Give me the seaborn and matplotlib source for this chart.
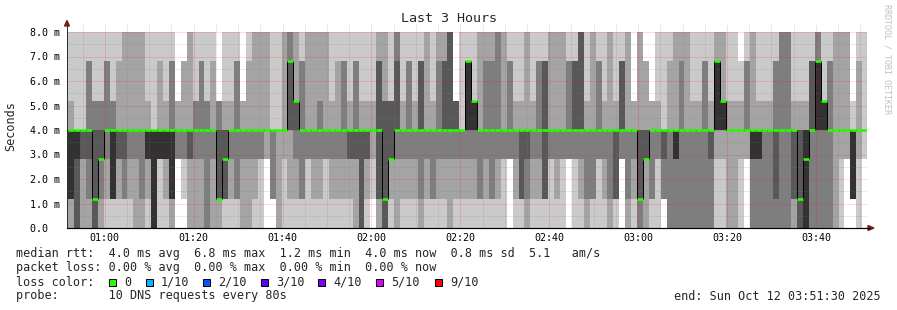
import numpy as np
import pandas as pd
import matplotlib
matplotlib.use("Agg")
import matplotlib.pyplot as plt
from matplotlib.patches import Rectangle, Polygon
import seaborn as sns

# ---------------- data ----------------
# ping levels (ms) that the consolidated DNS times fall on
LEVELS = [0.0, 1.2, 2.8, 4.0, 5.2, 6.8, 8.0]
# smoke depth (0..5 layers of the 10 sorted pings) over each gap between
# consecutive LEVELS, bottom -> top, one string per 80 s step
DEPTH = [
    "222222",
    "255211", "445111", "224111", "234331", "444311", "234311", "123331", "155311", "124221", "134222",
    "123222", "223222", "233222", "125211", "555111", "115221", "125211", "255331", "003200", "013220",
    "224222", "223311", "223331", "333311", "223221", "244300", "144211", "123211", "133331", "223200",
    "223221", "123222", "113222", "002222",
    "033111", "222111", "112222", "122443", "123422", "133331", "113222", "123222", "123322", "113222",
    "123211", "123221", "123331", "124211", "224331", "444211", "124211", "012211", "244442", "444422",
    "124411", "223443", "123211", "123331", "123211", "233441", "123222", "133211", "123332", "123442",
    "223444", "123400", "123111",
    "123551", "123511", "133222", "123332", "133332", "123333", "113222", "003331", "123211", "144211",
    "234222", "123211", "123331", "144441", "113222", "123222", "113222", "003331", "113441", "123444",
    "233211", "133222", "113331", "123211", "233222", "144211", "003441", "233222", "123200", "344222",
    "224220", "133200", "113211",
    "034111", "333221", "335222", "333332", "333222", "333211", "333211", "333331", "334211", "112552",
    "112522", "222211", "222211", "112210", "002331", "335222", "335211", "333211", "333211", "344331",
    "333333", "333333", "244211", "444211", "555211", "333441", "333553", "333511", "333331", "222222",
    "112222", "002222", "055100", "112221", "001111",
]
# median rtt (ms) per 80 s step
MEDIAN = [
    4.0, 4.0, 4.0, 4.0, 4.0, 1.2, 2.8, 4.0, 4.0, 4.0,
    4.0, 4.0, 4.0, 4.0, 4.0, 4.0, 4.0, 4.0, 4.0, 4.0,
    4.0, 4.0, 4.0, 4.0, 4.0, 4.0, 1.2, 2.8, 4.0, 4.0,
    4.0, 4.0, 4.0, 4.0, 4.0, 4.0, 4.0, 4.0, 6.8, 5.2,
    4.0, 4.0, 4.0, 4.0, 4.0, 4.0, 4.0, 4.0, 4.0, 4.0,
    4.0, 4.0, 4.0, 4.0, 1.2, 2.8, 4.0, 4.0, 4.0, 4.0,
    4.0, 4.0, 4.0, 4.0, 4.0, 4.0, 4.0, 4.0, 6.8, 5.2,
    4.0, 4.0, 4.0, 4.0, 4.0, 4.0, 4.0, 4.0, 4.0, 4.0,
    4.0, 4.0, 4.0, 4.0, 4.0, 4.0, 4.0, 4.0, 4.0, 4.0,
    4.0, 4.0, 4.0, 4.0, 4.0, 4.0, 4.0, 1.2, 2.8, 4.0,
    4.0, 4.0, 4.0, 4.0, 4.0, 4.0, 4.0, 4.0, 4.0, 4.0,
    6.8, 5.2, 4.0, 4.0, 4.0, 4.0, 4.0, 4.0, 4.0, 4.0,
    4.0, 4.0, 4.0, 4.0, 1.2, 2.8, 4.0, 6.8, 5.2, 4.0,
    4.0, 4.0, 4.0, 4.0, 4.0, 4.0,
]
STEP_S = 80            # probe step
FIRST_STEP_S = -64     # start of first step relative to window start (00:51:30)
WINDOW_S = 10800       # last 3 hours
MAJOR_LABELS = ["01:00", "01:20", "01:40", "02:00", "02:20", "02:40", "03:00", "03:20", "03:40"]
FIRST_MAJOR_S = 510    # 01:00 relative to 00:51:30
Y_LABELS = ["0.0  ", "1.0 m", "2.0 m", "3.0 m", "4.0 m", "5.0 m", "6.0 m", "7.0 m", "8.0 m"]
LOSS_NAMES = ["0", "1/10", "2/10", "3/10", "4/10", "5/10", "9/10"]
LOSS_COLORS = ["#26ff00", "#00b8ff", "#0059ff", "#5e00ff", "#7e00ff", "#dd00ff", "#ff0000"]

# ---------------- derived ----------------
n = len(DEPTH)
edges = FIRST_STEP_S + STEP_S * np.arange(n + 1)
lev = np.array(LEVELS)
low = np.zeros((5, n))
high = np.zeros((5, n))
for j, code in enumerate(DEPTH):
    d = np.array([int(c) for c in code])
    for i in range(1, 6):
        idx = np.where(d >= i)[0]
        if len(idx):
            low[i - 1, j] = lev[idx[0]]
            high[i - 1, j] = lev[idx[-1] + 1]
med = np.array(MEDIAN)

# ---------------- figure ----------------
sns.set_theme(style="white")
plt.rcParams["font.family"] = ["DejaVu Sans Mono", "DejaVu Sans"]
W, H = 897, 310
fig = plt.figure(figsize=(W / 100, H / 100), dpi=100)
fig.patch.set_facecolor("white")
AX_L, AX_R, AX_T, AX_B = 67, 867, 25, 228
ax = fig.add_axes([AX_L / W, 1 - AX_B / H, (AX_R - AX_L) / W, (AX_B - AX_T) / H])
ax.set_facecolor("white")
PX_PER_MS = 24.5
ax.set_xlim(0, WINDOW_S)
ax.set_ylim(0, 8.0 + (32 - AX_T) / PX_PER_MS)

# smoke
for i in range(5):
    g = int(190 / 5 * (5 - (i + 1))) + 50
    col = "#%02x%02x%02x" % (g, g, g)
    ax.stairs(high[i], edges, baseline=low[i], fill=True, color=col,
              linewidth=0, antialiased=False, zorder=1)

def px(p):
    return p * 72 / 100

# grid (dotted, drawn above the smoke)
GRID = (0.5, 0.5, 0.5, 0.32)
MGRID = (1.0, 0.0, 0.0, 0.28)
dot = (0, (1, 1))
for y in np.arange(0.5, 8.01, 1.0):
    ax.axhline(y, color=GRID, lw=px(1), ls=dot, zorder=3)
for y in np.arange(1, 8.01, 1.0):
    ax.axhline(y, color=MGRID, lw=px(1), ls=dot, zorder=3)
minor_x = np.arange(FIRST_MAJOR_S - 300, WINDOW_S, 300)
major_x = FIRST_MAJOR_S + 1200 * np.arange(len(MAJOR_LABELS))
for x in minor_x:
    if not np.any(np.isclose(x, major_x)) and x > 0:
        ax.axvline(x, color=GRID, lw=px(1), ls=dot, zorder=3)
for x in major_x:
    ax.axvline(x, color=MGRID, lw=px(1), ls=dot, zorder=3)

# median: black connector line then loss-coloured segments
df = pd.DataFrame({"t": edges, "median": np.append(med, med[-1])})
sns.lineplot(data=df, x="t", y="median", ax=ax, drawstyle="steps-post",
             color="#000000", lw=px(1), estimator=None, zorder=4)
ax.hlines(med, edges[:-1], edges[1:], colors=LOSS_COLORS[0], lw=px(2.6), zorder=5)

# axes
for s in ax.spines.values():
    s.set_visible(False)
ax.set_xlabel("")
ax.set_ylabel("")
ax.set_xticks(major_x)
ax.set_xticklabels(MAJOR_LABELS)
ax.set_yticks(np.arange(0, 8.01, 1.0))
ax.set_yticklabels(Y_LABELS)
ax.tick_params(axis="both", length=0, labelsize=7.2, colors="#000000")
ax.tick_params(axis="y", pad=px(7))
ax.tick_params(axis="x", pad=px(5))

def fig_xy(xp, yp):
    return (xp / W, 1 - yp / H)

fig.add_artist(plt.Line2D([AX_L / W, AX_L / W], [1 - AX_B / H, 1 - 22 / H],
                          color="#303030", lw=px(1)))
fig.add_artist(plt.Line2D([AX_L / W, 870 / W], [1 - AX_B / H, 1 - AX_B / H],
                          color="#000000", lw=px(1.2)))
fig.add_artist(Polygon([fig_xy(64.5, 26), fig_xy(69.5, 26), fig_xy(67, 20.5)],
                       closed=True, color="#7f1f1f", transform=fig.transFigure))
fig.add_artist(Polygon([fig_xy(868, 225.5), fig_xy(868, 230.5), fig_xy(874, 228)],
                       closed=True, color="#7f1f1f", transform=fig.transFigure))

# texts
fig.text(448.5 / W, 1 - 19 / H, "Last 3 Hours", ha="center", va="center", fontsize=9.6)
fig.text(11 / W, 1 - 126 / H, "Seconds", ha="center", va="center", rotation=90, fontsize=8.5)
fig.text(887 / W, 1 - 4 / H, "RRDTOOL / TOBI OETIKER", ha="center", va="top",
         rotation=-90, fontsize=6.0, color="#c0c0c0")

FS = 8.5
fig.text(16 / W, 1 - 254 / H,
         "median rtt:  4.0 ms avg  6.8 ms max  1.2 ms min  4.0 ms now  0.8 ms sd  5.1   am/s",
         ha="left", va="center", fontsize=FS)
fig.text(16 / W, 1 - 268 / H,
         "packet loss: 0.00 % avg  0.00 % max  0.00 % min  0.00 % now",
         ha="left", va="center", fontsize=FS)
fig.text(16 / W, 1 - 282 / H, "loss color:", ha="left", va="center", fontsize=FS)
box_x = [109, 146, 203, 261, 318, 376, 435]
for bx, name, c in zip(box_x, LOSS_NAMES, LOSS_COLORS):
    fig.add_artist(Rectangle(fig_xy(bx, 285.5), 7 / W, 7 / H, transform=fig.transFigure,
                             facecolor=c, edgecolor="#000000", lw=px(1)))
    fig.text((bx + 15) / W, 1 - 282 / H, name, ha="left", va="center", fontsize=FS)
fig.text(16 / W, 1 - 296 / H, "probe:       10 DNS requests every 80s",
         ha="left", va="center", fontsize=FS)
fig.text(881 / W, 1 - 296 / H, "end: Sun Oct 12 03:51:30 2025",
         ha="right", va="center", fontsize=FS)

fig.savefig("out.png", dpi=100, facecolor="white")
